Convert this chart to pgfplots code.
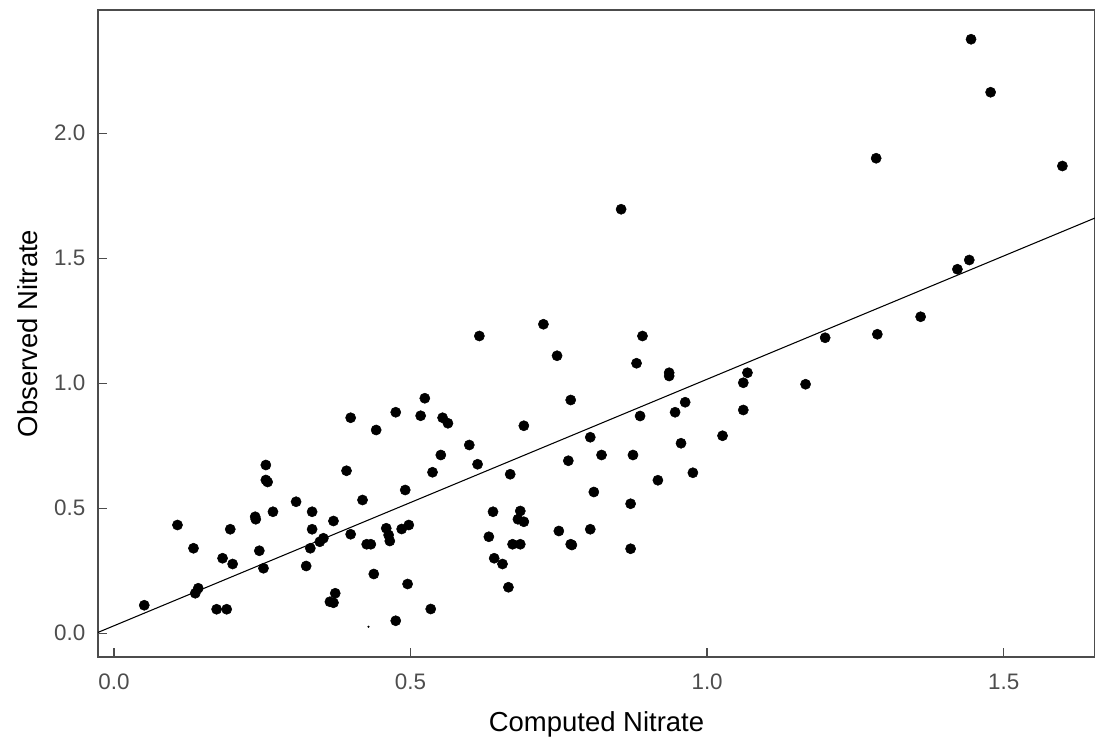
\documentclass[border=0pt]{standalone}
\usepackage{fontspec}
\setmainfont{Liberation Sans}
\usepackage{pgfplots}
\pgfplotsset{compat=1.18}
\definecolor{ticktext}{HTML}{4D4D4D}

\begin{document}
\begin{tikzpicture}
\begin{axis}[
  scale only axis,
  width=747.75pt, height=485.25pt,
  xmin=-0.027, xmax=1.654, ymin=-0.095, ymax=2.493,
  xtick={0,0.5,1,1.5}, ytick={0,0.5,1,1.5,2},
  tick align=inside, major tick length=7pt,
  xtick pos=bottom, ytick pos=left,
  axis line style={black!70, line width=1.1pt},
  every tick/.style={black!70, line width=1.1pt},
  tick label style={font=\fontsize{16.8}{18}\selectfont, text=ticktext,
    /pgf/number format/fixed, /pgf/number format/fixed zerofill,
    /pgf/number format/precision=1, /pgf/number format/assume math mode=true},
  xticklabel style={yshift=-9pt},
  yticklabel style={xshift=-6pt},
  xlabel={Computed Nitrate}, ylabel={Observed Nitrate},
  label style={font=\fontsize{20.6}{24}\selectfont},
  xlabel style={at={(axis description cs:0.5,-0.1159)}, anchor=base},
  ylabel style={at={(axis description cs:-0.0602,0.5)}, anchor=base},
]
% observed vs computed nitrate
\addplot[only marks, mark=*, mark size=3.8pt, black] table {
x y
0.256 0.673
0.256 0.613
0.259 0.605
0.107 0.433
0.307 0.526
0.268 0.486
0.238 0.466
0.239 0.456
0.334 0.486
0.370 0.449
0.196 0.416
0.334 0.416
0.134 0.340
0.353 0.380
0.347 0.366
0.331 0.340
0.245 0.330
0.183 0.300
0.200 0.277
0.252 0.260
0.324 0.269
0.142 0.180
0.137 0.160
0.373 0.160
0.364 0.126
0.370 0.122
0.051 0.112
0.173 0.096
0.190 0.096
0.524 0.940
0.399 0.862
0.475 0.884
0.517 0.870
0.554 0.862
0.563 0.840
0.442 0.813
0.770 0.933
0.691 0.830
0.599 0.753
0.551 0.713
0.613 0.676
0.392 0.650
0.537 0.644
0.766 0.690
0.668 0.636
0.491 0.573
0.419 0.533
0.399 0.396
0.459 0.420
0.463 0.393
0.465 0.369
0.485 0.417
0.497 0.433
0.426 0.356
0.433 0.356
0.639 0.486
0.685 0.489
0.681 0.456
0.691 0.446
0.750 0.409
0.632 0.386
0.672 0.356
0.685 0.356
0.770 0.356
0.641 0.300
0.655 0.277
0.438 0.237
0.495 0.197
0.665 0.184
0.534 0.097
0.475 0.050
0.616 1.189
0.724 1.236
0.747 1.110
0.891 1.189
0.881 1.080
0.936 1.042
0.936 1.029
1.068 1.042
1.061 1.002
1.166 0.996
0.963 0.924
0.946 0.884
0.887 0.869
1.061 0.893
0.803 0.784
1.026 0.790
0.956 0.760
0.822 0.713
0.875 0.713
0.917 0.612
0.976 0.642
0.809 0.565
0.871 0.518
0.803 0.416
0.772 0.353
0.871 0.338
1.360 1.266
1.287 1.196
1.199 1.182
1.285 1.900
1.599 1.869
0.855 1.696
1.442 1.493
1.422 1.456
1.445 2.376
1.478 2.164
};
\addplot[only marks, mark=*, mark size=0.6pt, black] coordinates {(0.429,0.026)};
% fitted line
\addplot[black, line width=0.8pt] coordinates {(-0.027,0.0034) (1.654,1.661)};
\end{axis}
\pgfresetboundingbox
\path[use as bounding box] ([xshift=-73.5pt,yshift=-62.25pt]current axis.south west)
  rectangle ([yshift=7.5pt]current axis.north east);
\end{tikzpicture}
\end{document}
